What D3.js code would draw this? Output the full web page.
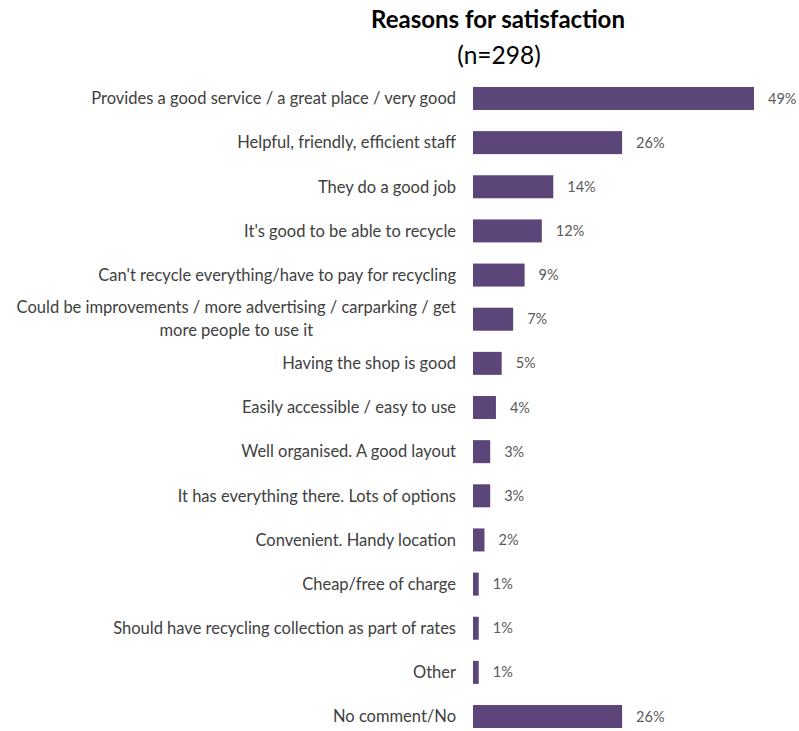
<!DOCTYPE html>
<html>
<head>
<meta charset="utf-8">
<script src="https://cdn.jsdelivr.net/npm/d3@7"></script>
<style>
  html, body { margin: 0; padding: 0; background: #ffffff; }
  svg { display: block; }
</style>
</head>
<body>
<div id="chart"></div>
<script>
// Survey responses: reasons given for satisfaction
const categories = [
  "Provides a good service / a great place / very good",
  "Helpful, friendly, efficient staff",
  "They do a good job",
  "It's good to be able to recycle",
  "Can't recycle everything/have to pay for recycling",
  "Could be improvements / more advertising / carparking / get|more people to use it",
  "Having the shop is good",
  "Easily accessible / easy to use",
  "Well organised. A good layout",
  "It has everything there. Lots of options",
  "Convenient. Handy location",
  "Cheap/free of charge",
  "Should have recycling collection as part of rates",
  "Other",
  "No comment/No"
];
const values = [49, 26, 14, 12, 9, 7, 5, 4, 3, 3, 2, 1, 1, 1, 26];
const titleText = "Reasons for satisfaction";
const subtitleText = "(n=298)";

const W = 799, H = 731;
const barColor = "#5b4579";
const labelColor = "#404040";
const valueColor = "#595959";
const fontFamily = "Lato, 'Open Sans', sans-serif";

const svg = d3.select("#chart").append("svg")
  .attr("width", W).attr("height", H);

const x = d3.scaleLinear().domain([0, 49]).range([473, 754]);
const y = d3.scaleBand()
  .domain(d3.range(categories.length))
  .range([76.4, 738.6])
  .paddingInner(0.479)
  .paddingOuter(0.2395);

// Title
svg.append("text")
  .attr("x", 498).attr("y", 28)
  .attr("text-anchor", "middle")
  .attr("font-family", fontFamily)
  .attr("font-weight", "bold")
  .attr("font-size", 24)
  .attr("fill", "#000")
  .text(titleText);
svg.append("text")
  .attr("x", 499).attr("y", 64)
  .attr("text-anchor", "middle")
  .attr("font-family", fontFamily)
  .attr("font-size", 24.5)
  .attr("fill", "#000")
  .text(subtitleText);

// Bars
svg.append("g").selectAll("rect")
  .data(values)
  .join("rect")
  .attr("x", x(0))
  .attr("y", (d, i) => y(i))
  .attr("width", d => x(d) - x(0))
  .attr("height", y.bandwidth())
  .attr("fill", barColor);

// Value labels
svg.append("g").selectAll("text")
  .data(values)
  .join("text")
  .attr("x", d => x(d) + 14)
  .attr("y", (d, i) => y(i) + y.bandwidth() / 2)
  .attr("dy", "0.35em")
  .attr("font-family", fontFamily)
  .attr("font-size", 14.5)
  .attr("fill", valueColor)
  .text(d => d + "%");

// Category labels (multi-line labels are centred as a block, right-aligned to the axis)
const labelG = svg.append("g");
categories.forEach((c, i) => {
  const lines = c.split("|");
  const cy = y(i) + y.bandwidth() / 2;
  const lh = 23;
  const t = labelG.append("text")
    .attr("font-family", fontFamily)
    .attr("font-size", 16.5)
    .attr("fill", labelColor);
  lines.forEach((ln, k) => {
    t.append("tspan")
      .attr("x", 456)
      .attr("y", cy + (k - (lines.length - 1) / 2) * lh)
      .attr("dy", "0.35em")
      .text(ln);
  });
  if (lines.length > 1) {
    // centre shorter lines under the widest one
    const spans = t.selectAll("tspan").nodes();
    const widths = spans.map(s => s.getComputedTextLength());
    const maxW = d3.max(widths);
    spans.forEach((s, k) => {
      d3.select(s).attr("x", 456 - maxW / 2).attr("text-anchor", "middle");
    });
  } else {
    t.selectAll("tspan").attr("text-anchor", "end");
  }
});
</script>
</body>
</html>
